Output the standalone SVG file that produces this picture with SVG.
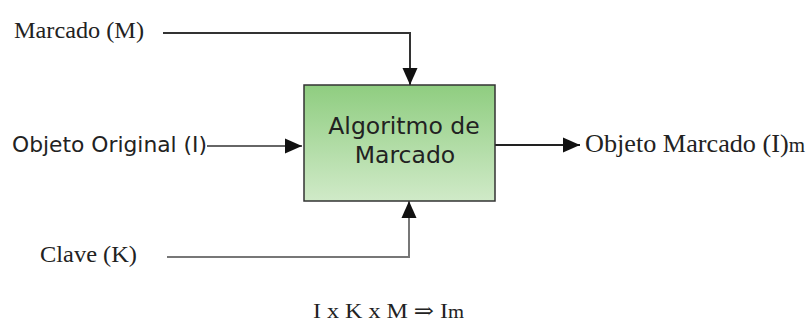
<svg xmlns="http://www.w3.org/2000/svg" width="806" height="327" viewBox="0 0 806 327">
  <style>
    .serif { font-family: "Liberation Serif", "DejaVu Serif", serif; fill: #222; }
    .sans { font-family: "DejaVu Sans", "Liberation Sans", sans-serif; fill: #222; }
    .conn { fill: none; stroke-width: 2; }
  </style>
  <defs>
    <linearGradient id="boxGrad" x1="0" y1="0" x2="0" y2="1">
      <stop offset="0" stop-color="#8fcd80"/>
      <stop offset="1" stop-color="#d0eac8"/>
    </linearGradient>
    <marker id="arrow" viewBox="0 0 17 17" refX="17" refY="8.5" markerWidth="17" markerHeight="17" markerUnits="userSpaceOnUse" orient="auto">
      <path d="M0,1 L17,8.5 L0,16 z" fill="#111"/>
    </marker>
  </defs>
  <rect width="806" height="327" fill="#ffffff"/>

  <g id="connectors">
    <path class="conn" d="M163,33 H410 V85" stroke="#333" marker-end="url(#arrow)"/>
    <path class="conn" d="M207,146 H302" stroke="#666" marker-end="url(#arrow)"/>
    <path class="conn" d="M167,257 H409 V201" stroke="#777" marker-end="url(#arrow)"/>
    <path class="conn" d="M495,145 H580" stroke="#222" marker-end="url(#arrow)"/>
  </g>

  <g id="algoritmo">
    <rect x="304" y="85" width="191" height="116" fill="url(#boxGrad)" stroke="#333" stroke-width="1.5"/>
    <text class="sans" x="404" y="134" font-size="23.5" text-anchor="middle">Algoritmo de</text>
    <text class="sans" x="405" y="163" font-size="23.5" text-anchor="middle">Marcado</text>
  </g>

  <g id="marcado">
    <text class="serif" x="14" y="38" font-size="24" textLength="130" lengthAdjust="spacingAndGlyphs">Marcado (M)</text>
  </g>

  <g id="original">
    <text class="sans" x="12" y="152" font-size="21" textLength="195" lengthAdjust="spacingAndGlyphs">Objeto Original (I)</text>
  </g>

  <g id="clave">
    <text class="serif" x="40" y="262" font-size="24" textLength="97" lengthAdjust="spacingAndGlyphs">Clave (K)</text>
  </g>

  <g id="salida">
    <text class="serif" x="585" y="152" font-size="25" textLength="220" lengthAdjust="spacingAndGlyphs">Objeto Marcado (I)<tspan font-size="20">m</tspan></text>
  </g>

  <g id="formula">
    <text class="serif" x="313" y="318" font-size="21" textLength="151" lengthAdjust="spacingAndGlyphs">I x K x M ⇒ I<tspan font-size="18">m</tspan></text>
  </g>
</svg>
